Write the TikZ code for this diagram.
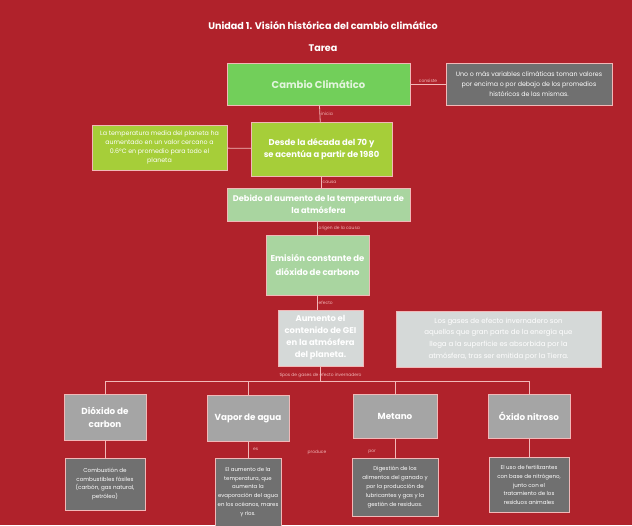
\documentclass[tikz,border=0pt]{standalone}
\usepackage{fontspec}
\setmainfont{Poppins}
\definecolor{fondo}{RGB}{176,34,43}
\definecolor{verde}{RGB}{114,207,90}
\definecolor{lima}{RGB}{166,206,57}
\definecolor{verdeclaro}{RGB}{169,213,160}
\definecolor{grisclaro}{RGB}{213,217,216}
\definecolor{gris}{RGB}{165,165,165}
\definecolor{grisoscuro}{RGB}{112,112,112}
\definecolor{linea}{RGB}{242,184,184}
\begin{document}
\begin{tikzpicture}[x=1pt,y=-1pt,
    caja/.style={draw=linea,line width=0.5pt,align=center,inner sep=1pt,outer sep=0pt,text=white},
    etiqueta/.style={font=\fontsize{4.4}{5}\selectfont,text=linea,inner sep=0.8pt},
    conector/.style={draw=linea,line width=0.8pt}]
  \fill[fondo] (0,0) rectangle (632,525);
  \useasboundingbox (0,0) rectangle (632,525);
  % titulo
  \node[text=white,font=\fontsize{9.6}{11}\selectfont\bfseries] (titulo) at (323,26) {Unidad 1. Visión histórica del cambio climático};
  \node[text=white,font=\fontsize{9.6}{11}\selectfont\bfseries] (tarea) at (323,48) {Tarea};
  % cadena central
  \node[caja,fill=verde,minimum width=183pt,minimum height=42pt,text=white!80!verde,font=\fontsize{10}{12}\selectfont\bfseries] (cambio) at (318.5,84) {Cambio Climático};
  \node[caja,fill=grisoscuro,minimum width=166pt,minimum height=42pt,font=\fontsize{6.3}{9.8}\selectfont] (definicion) at (529,84) {Uno o más variables climáticas toman valores\\por encima o por debajo de los promedios\\históricos de las mismas.};
  \node[caja,fill=lima,minimum width=141pt,minimum height=54pt,font=\fontsize{8.4}{12.5}\selectfont\bfseries] (desde) at (321.5,149) {Desde la década del 70 y\\se acentúa a partir de 1980};
  \node[caja,fill=lima,minimum width=135pt,minimum height=45pt,font=\fontsize{6.3}{8.8}\selectfont] (promedio) at (159.5,147.5) {La temperatura media del planeta ha\\aumentado en un valor cercano a\\0.6°C en promedio para todo el\\planeta};
  \node[caja,fill=verdeclaro,minimum width=183pt,minimum height=33pt,font=\fontsize{8.2}{12}\selectfont\bfseries] (debido) at (318.5,204.5) {Debido al aumento de la temperatura de\\la atmósfera};
  \node[caja,fill=verdeclaro,minimum width=103pt,minimum height=60pt,font=\fontsize{8.5}{13.5}\selectfont\bfseries] (emision) at (317.5,265) {Emisión constante de\\dióxido de carbono};
  \node[caja,fill=grisclaro,minimum width=85pt,minimum height=56pt,font=\fontsize{8.4}{12}\selectfont\bfseries] (aumento) at (320.5,338) {Aumento el\\contenido de GEI\\en la atmósfera\\del planeta.};
  \node[caja,fill=grisclaro,minimum width=205pt,minimum height=56pt,font=\fontsize{7}{11.8}\selectfont] (gases) at (498.5,339) {Los gases de efecto invernadero son\\aquellos que gran parte de la energía que\\llega a la superficie es absorbida por la\\atmósfera, tras ser emitida por la Tierra.};
  % tipos de gases
  \node[caja,fill=gris,minimum width=82pt,minimum height=46pt,font=\fontsize{8.8}{13}\selectfont\bfseries] (dioxido) at (105,417) {Dióxido de\\carbon};
  \node[caja,fill=gris,minimum width=82pt,minimum height=46pt,font=\fontsize{8.8}{13}\selectfont\bfseries] (vapor) at (248,418) {Vapor de agua};
  \node[caja,fill=gris,minimum width=84pt,minimum height=44pt,font=\fontsize{8.8}{13}\selectfont\bfseries] (metano) at (395,416) {Metano};
  \node[caja,fill=gris,minimum width=82pt,minimum height=44pt,font=\fontsize{8.8}{13}\selectfont\bfseries] (oxido) at (529,416) {Óxido nitroso};
  % origen de cada gas
  \node[caja,fill=grisoscuro,minimum width=80pt,minimum height=52pt,font=\fontsize{5.6}{8.8}\selectfont] (dioxidoorigen) at (105,484) {Combustión de\\combustibles fósiles\\(carbón, gas natural,\\petróleo)};
  \node[caja,fill=grisoscuro,minimum width=66pt,minimum height=68pt,font=\fontsize{5.4}{8.8}\selectfont] (vaporigen) at (248,492) {El aumento de la\\temperatura, que\\aumenta la\\evaporación del agua\\en los océanos, mares\\y ríos.};
  \node[caja,fill=grisoscuro,minimum width=86pt,minimum height=58pt,font=\fontsize{5.5}{8.8}\selectfont] (metanorigen) at (395,487) {Digestión de los\\alimentos del ganado y\\por la producción de\\lubricantes y gas y la\\gestión de residuos.};
  \node[caja,fill=grisoscuro,minimum width=80pt,minimum height=55pt,font=\fontsize{5.5}{8.8}\selectfont] (oxidorigen) at (529,485) {El uso de fertilizantes\\con base de nitrógeno,\\junto con el\\tratamiento de los\\residuos animales};
  % conectores
  \coordinate (bus) at (320.5,381);
  \draw[conector] (cambio) -- node[etiqueta,above]{consiste} (definicion);
  \draw[conector] (cambio) -- node[etiqueta,right]{inicia} (desde);
  \draw[conector] (promedio) -- (desde);
  \draw[conector] (desde) -- node[etiqueta,right]{causa} (debido.north -| desde);
  \draw[conector] (debido.south -| emision) -- node[etiqueta,right]{origen de la causa} (emision);
  \draw[conector] (emision.south) -- node[etiqueta,right]{efecto} (emision.south |- aumento.north);
  \draw[conector] (aumento) -- node[etiqueta,pos=0.65]{tipos de gases de efecto invernadero} (bus);
  \draw[conector] (dioxido) -- (dioxido.north |- bus) -- (oxido.north |- bus) -- (oxido);
  \draw[conector] (vapor) -- (vapor.north |- bus);
  \draw[conector] (metano) -- (metano.north |- bus);
  \draw[conector] (dioxido) -- (dioxidoorigen);
  \draw[conector] (vapor) -- node[etiqueta,right=4pt]{es} (vaporigen);
  \draw[conector] (metano) -- (metanorigen);
  \draw[conector] (oxido) -- (oxidorigen);
  \node[etiqueta] (produce) at (317,452) {produce};
  \node[etiqueta] (por) at (372,452) {por};
\end{tikzpicture}
\end{document}
